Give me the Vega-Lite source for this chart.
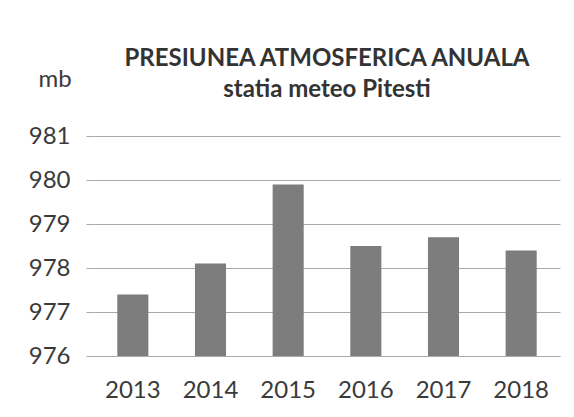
{
  "$schema": "https://vega.github.io/schema/vega-lite/v6.json",
  "width": 466,
  "height": 220,
  "autosize": {"type": "none"},
  "padding": {"left": 94, "top": 136, "right": 14, "bottom": 61},
  "background": "#ffffff",
  "title": {
    "text": ["PRESIUNEA ATMOSFERICA ANUALA", "statia meteo Pitesti"],
    "font": "Lato",
    "fontSize": 24,
    "fontWeight": "bold",
    "color": "#333333",
    "anchor": "middle",
    "lineHeight": 31,
    "offset": -35
  },
  "data": {
    "values": [
      {"an": "2013", "presiune": 977.4},
      {"an": "2014", "presiune": 978.1},
      {"an": "2015", "presiune": 979.9},
      {"an": "2016", "presiune": 978.5},
      {"an": "2017", "presiune": 978.7},
      {"an": "2018", "presiune": 978.4}
    ]
  },
  "mark": {"type": "bar", "color": "#7d7d7d"},
  "encoding": {
    "x": {
      "field": "an",
      "type": "ordinal",
      "scale": {"paddingInner": 0.6, "paddingOuter": 0.3},
      "axis": {
        "title": null,
        "labelAngle": 0,
        "labelFont": "Lato",
        "labelFontSize": 24,
        "labelColor": "#3a3a3a",
        "labelPadding": 22,
        "ticks": false,
        "domainColor": "#a8a8a8",
        "grid": false
      }
    },
    "y": {
      "field": "presiune",
      "type": "quantitative",
      "scale": {"domain": [976, 981], "zero": false, "nice": false},
      "axis": {
        "title": "mb",
        "titleAngle": 0,
        "titleFont": "Lato",
        "titleFontSize": 24,
        "titleFontWeight": "normal",
        "titleColor": "#3a3a3a",
        "titleAlign": "left",
        "titleBaseline": "alphabetic",
        "titleX": -56,
        "titleY": -50,
        "values": [976, 977, 978, 979, 980, 981],
        "labelFont": "Lato",
        "labelFontSize": 24,
        "labelColor": "#3a3a3a",
        "labelPadding": 16,
        "tickSize": 8,
        "tickColor": "#a8a8a8",
        "domain": false,
        "grid": true,
        "gridColor": "#a8a8a8",
        "gridWidth": 1
      }
    },
    "y2": {"datum": 976}
  },
  "config": {"view": {"stroke": null}}
}
